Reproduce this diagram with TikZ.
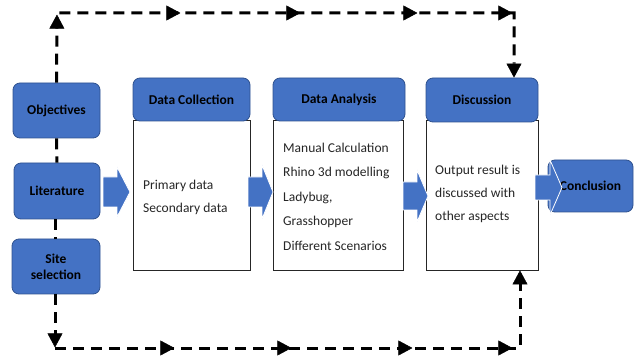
\documentclass[tikz,border=0pt]{standalone}
\usepackage{fontspec}
\setmainfont{Carlito}
\usetikzlibrary{arrows.meta,decorations.markings}
\definecolor{boxblue}{HTML}{4472C4}
\definecolor{boxedge}{HTML}{2F528F}
\definecolor{bodytxt}{HTML}{262626}
\newcommand\blockarr[7]{% x1, x2 (head base), x3 (tip), yc, shaft half, head half
\fill[boxblue, draw=white, line width=0.8pt, line join=miter] (#2,#5-#6) -- (#3,#5-#6) -- (#3,#5-#7) -- (#4,#5) -- (#3,#5+#7) -- (#3,#5+#6) -- (#2,#5+#6) -- cycle;}
\begin{document}
\begin{tikzpicture}[x=1pt,y=-1pt,
  bluebox/.style={draw=boxedge, line width=0.8pt, fill=boxblue, rounded corners=7pt,
    font=\bfseries\fontsize{13.5}{17}\selectfont, text=black, align=center, inner sep=0pt},
  bodybox/.style={draw=black!85, line width=0.9pt, fill=white, inner sep=0pt},
  bodytext/.style={anchor=base west, inner sep=0pt, text=bodytxt, font=\fontsize{13.5}{15}\selectfont},
  dashline/.style={line width=3pt, dash pattern=on 11pt off 7pt},
  tip/.style={-{Triangle[length=14pt,width=15pt,line width=0.4pt]}},
  mk/.style={postaction={decorate}, decoration={markings, #1}},
]
\useasboundingbox (0,0) rectangle (635,358);
% left boxes
\node[bluebox, minimum width=87pt, minimum height=55pt] (obj) at (56.5,110.5) {Objectives};
\node[bluebox, minimum width=86pt, minimum height=56pt] (lit) at (57,191) {Literature};
\node[bluebox, minimum width=88pt, minimum height=55pt] (site) at (56,266.5) {Site\\[-1pt]selection};
% body boxes
\node[bodybox, minimum width=117pt, minimum height=150pt] (dcb) at (191.5,195) {};
\node[bodybox, minimum width=130pt, minimum height=150pt] (dab) at (338,195) {};
\node[bodybox, minimum width=112pt, minimum height=150pt] (dsb) at (482,195) {};
% headers
\node[bluebox, minimum width=117pt, minimum height=43pt] (dch) at (191.5,99.5) {Data Collection};
\node[bluebox, minimum width=132pt, minimum height=43pt] (dah) at (339,99.5) {Data Analysis};
\node[bluebox, minimum width=112pt, minimum height=44pt] (dsh) at (482,100) {Discussion};
% conclusion
\node[bluebox, minimum width=85pt, minimum height=52pt] (conc) at (590.5,186) {Conclusion};
% block arrows
\blockarr{a1}{103}{117}{130}{192}{15}{25}
\blockarr{a2}{248}{262}{273}{192}{15}{27}
\blockarr{a3}{403}{417}{428}{196}{14}{26}
\blockarr{a4}{535}{550}{562}{187.5}{12.5}{27.5}
% body texts
\node[bodytext] (t1) at (143,190) {Primary data};
\node[bodytext] (t2) at (143,213) {Secondary data};
\node[bodytext] (t3) at (283,153) {Manual Calculation};
\node[bodytext] (t4) at (283,177) {Rhino 3d modelling};
\node[bodytext] (t5) at (283,201.5) {Ladybug,};
\node[bodytext] (t6) at (283,226) {Grasshopper};
\node[bodytext] (t7) at (283,250.5) {Different Scenarios};
\node[bodytext] (t8) at (435,175) {Output result is};
\node[bodytext] (t9) at (435,198) {discussed with};
\node[bodytext] (t10) at (435,221) {other aspects};
% dashed connectors
\coordinate (tl) at (57,13);
\coordinate (tr) at (514,13);
\coordinate (bl) at (55,348);
\coordinate (br) at (520,348);
\draw[dashline] (obj.south) -- (lit.north);
\draw[dashline] (lit.south -| bl) -- (site.north -| bl);
\draw[dashline, tip, mk={
    mark=at position 68pt with {\arrow{Triangle[length=14pt,width=15pt,line width=0.4pt]}},
    mark=at position 193pt with {\arrow{Triangle[length=14pt,width=15pt,line width=0.4pt]}},
    mark=at position 313pt with {\arrow{Triangle[length=14pt,width=15pt,line width=0.4pt]}},
    mark=at position 430pt with {\arrow{Triangle[length=14pt,width=15pt,line width=0.4pt]}},
    mark=at position 525pt with {\arrow{Triangle[length=14pt,width=15pt,line width=0.4pt]}}}]
  (obj.north) -- (tl) -- (tr) -- (tr |- dsh.north);
\draw[dashline, tip, mk={
    mark=at position 53pt with {\arrow{Triangle[length=14pt,width=15pt,line width=0.4pt]}},
    mark=at position 173pt with {\arrow{Triangle[length=14pt,width=15pt,line width=0.4pt]}},
    mark=at position 290pt with {\arrow{Triangle[length=14pt,width=15pt,line width=0.4pt]}},
    mark=at position 411pt with {\arrow{Triangle[length=14pt,width=15pt,line width=0.4pt]}},
    mark=at position 511pt with {\arrow{Triangle[length=14pt,width=15pt,line width=0.4pt]}}}]
  (site.south -| bl) -- (bl) -- (br) -- (br |- dsb.south);
\end{tikzpicture}
\end{document}
